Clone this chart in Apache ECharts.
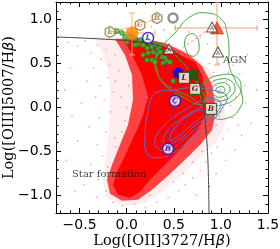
<!DOCTYPE html>
<html><head><meta charset="utf-8">
<script src="https://cdn.jsdelivr.net/npm/echarts@6/dist/echarts.min.js"></script>
<style>html,body{margin:0;padding:0;background:#fff}#c{width:280px;height:249px}</style>
</head><body><div id="c"></div>
<script>
// ---- tick labels ----
const xMajor=[-0.5,0,0.5,1.0,1.5];
const xMinor=[-0.7,-0.6,-0.4,-0.3,-0.2,-0.1,0.1,0.2,0.3,0.4,0.6,0.7,0.8,0.9,1.1,1.2,1.3,1.4];
const yMajor=[-1.0,-0.5,0,0.5,1.0];
const yMinor=[-1.1,-0.9,-0.8,-0.7,-0.6,-0.4,-0.3,-0.2,-0.1,0.1,0.2,0.3,0.4,0.6,0.7,0.8,0.9,1.1];

// ---- SDSS galaxy cloud (density regions) ----
const cloudOuter=[[-0.336,0.802],[0.036,0.802],[0.407,0.734],[0.672,0.632],[0.885,0.427],[1.012,0.143],[1.055,-0.141],[0.970,-0.368],[0.779,-0.573],[0.588,-0.766],[0.375,-0.959],[0.195,-1.084],[-0.018,-1.130],[-0.198,-1.05],[-0.251,-0.880],[-0.230,-0.652],[-0.198,-0.368],[-0.177,-0.027],[-0.177,0.314],[-0.230,0.541]];
const cloudMid=[[-0.124,0.780],[0.142,0.791],[0.407,0.734],[0.651,0.609],[0.800,0.473],[0.906,0.257],[0.949,-0.027],[0.906,-0.255],[0.779,-0.425],[0.619,-0.595],[0.439,-0.777],[0.269,-0.936],[0.120,-1.05],[-0.049,-1.061],[-0.177,-0.982],[-0.209,-0.823],[-0.155,-0.652],[-0.071,-0.425],[0.014,-0.198],[0.067,0.086],[0.057,0.370],[-0.018,0.598]];
const cloudCore=[[-0.018,0.745],[0.142,0.768],[0.354,0.711],[0.566,0.598],[0.726,0.518],[0.800,0.370],[0.842,0.143],[0.832,-0.084],[0.757,-0.255],[0.672,-0.345],[0.566,-0.482],[0.407,-0.652],[0.248,-0.823],[0.142,-0.959],[0.036,-1.027],[-0.092,-0.993],[-0.145,-0.880],[-0.102,-0.732],[-0.039,-0.595],[0.036,-0.425],[0.110,-0.255],[0.174,-0.084],[0.227,0.120],[0.163,0.370],[0.057,0.598]];
const sparsePoints=[[-0.62,0.74],[-0.52,0.70],[-0.44,0.76],[-0.38,0.62],[-0.31,0.71],[-0.27,0.55],[-0.22,0.66],[-0.18,0.48],[-0.12,0.60],[-0.08,0.42],[-0.35,0.45],[-0.42,0.30],[-0.28,0.25],[-0.20,0.34],[-0.14,0.18],[-0.24,0.08],[-0.33,0.12],[-0.48,0.05],[-0.17,-0.05],[-0.29,-0.12],[-0.40,-0.22],[-0.22,-0.28],[-0.13,-0.35],[-0.31,-0.42],[-0.52,-0.38],[-0.26,-0.55],[-0.38,-0.65],[-0.20,-0.68],[-0.30,-0.82],[-0.45,-0.88],[-0.22,-0.95],[-0.32,-1.02],[-0.15,-1.08],[-0.05,-1.12],[0.08,-1.10],[0.20,-1.14],[0.32,-1.08],[0.44,-1.02],[0.55,-0.95],[0.62,-0.88],[0.70,-0.80],[0.78,-0.72],[0.84,-0.62],[0.90,-0.52],[0.96,-0.45],[1.02,-0.36],[1.08,-0.25],[1.12,-0.12],[1.10,0.02],[1.16,0.12],[1.06,0.30],[1.20,0.38],[1.13,0.48],[0.98,0.50],[0.93,0.62],[0.86,0.72],[0.78,0.80],[0.66,0.86],[0.52,0.90],[0.40,0.88],[0.26,0.92],[0.10,0.92],[1.26,0.05],[1.32,-0.18],[1.22,-0.32],[1.15,-0.48],[1.05,-0.60],[0.95,-0.75],[0.88,-0.90],[0.74,-1.00],[1.38,0.20],[1.28,0.60],[-0.60,0.45],[-0.66,0.20],[-0.58,-0.10],[-0.64,-0.60],[-0.55,-0.95],[-0.10,-0.80],[-0.08,-0.55],[-0.05,-0.28],[0.00,0.00],[0.02,0.25],[0.05,0.50],[-0.02,0.65],[1.00,0.20],[1.04,0.10],[0.98,-0.10],[0.95,-0.20],[1.00,-0.05],[0.92,0.40],[0.88,0.50],[1.08,0.40],[0.60,-0.75],[0.50,-0.85],[0.70,-0.62],[0.80,-0.50],[0.12,-1.02],[0.25,-1.00],[-0.12,0.30],[-0.06,0.12],[-0.02,-0.15],[-0.11,-0.45],[1.18,-0.20],[1.25,0.25]];

// ---- contours ----
const blueContours=[
 [[0.322,0.177],[0.492,0.2],[0.704,0.223],[0.991,0.177],[1.065,0.120],[1.023,0.007],[0.853,-0.220],[0.641,-0.402],[0.492,-0.516],[0.322,-0.573],[0.216,-0.516],[0.195,-0.334],[0.227,-0.027],[0.269,0.120]],
 [[0.354,-0.482],[0.301,-0.368],[0.407,-0.198],[0.619,-0.027],[0.832,0.086],[0.970,0.086],[0.991,-0.005],[0.832,-0.164],[0.619,-0.345],[0.460,-0.482]],
 [[0.407,-0.425],[0.407,-0.311],[0.566,-0.141],[0.779,-0.005],[0.906,0.030],[0.906,-0.050],[0.726,-0.209],[0.545,-0.368]],
 [[0.460,-0.368],[0.513,-0.232],[0.672,-0.084],[0.811,-0.027],[0.811,-0.084],[0.651,-0.232],[0.524,-0.345]]
];
const greenContours=[
 [[0.513,0.848],[0.407,0.734],[0.322,0.586],[0.322,0.427],[0.386,0.291],[0.513,0.2],[0.672,0.120],[0.779,0.030],[0.906,-0.107],[1.076,-0.118],[1.203,-0.005],[1.224,0.143],[1.150,0.314],[1.087,0.484],[1.087,0.655],[1.065,0.848],[1.012,0.995],[0.853,1.075],[0.672,1.030]],
 [[0.301,0.541],[0.333,0.370],[0.439,0.223],[0.619,0.109],[0.779,0.030],[0.832,0.086],[0.779,0.223],[0.672,0.405],[0.566,0.541],[0.460,0.632],[0.354,0.632]],
 [[1.214,0.234],[1.161,0.348],[1.002,0.370],[0.832,0.291],[0.779,0.155],[0.853,0.041],[1.012,0.030],[1.171,0.120]],
 [[1.150,0.223],[1.108,0.302],[1.002,0.325],[0.885,0.268],[0.853,0.177],[0.906,0.098],[1.012,0.075],[1.118,0.143]],
 [[1.097,0.211],[1.065,0.268],[1.002,0.280],[0.927,0.245],[0.906,0.189],[0.938,0.132],[1.012,0.120],[1.076,0.166]],
 [[1.044,0.2],[1.023,0.234],[0.980,0.234],[0.949,0.211],[0.959,0.177],[0.991,0.166],[1.033,0.177]],
 [[0.672,0.836],[0.736,0.814],[0.768,0.711],[0.747,0.609],[0.683,0.586],[0.630,0.655],[0.619,0.768]]
];

// ---- demarcation curve ----
const demarcation=[[-0.75,0.802],[-0.283,0.780],[0.142,0.745],[0.354,0.70],[0.513,0.632],[0.619,0.541],[0.704,0.427],[0.768,0.280],[0.811,0.030],[0.842,-0.255],[0.864,-0.652],[0.874,-1.2]];

// ---- individual objects ----
const blueTrack=[[0.227,0.791],[0.354,0.575],[0.460,0.314],[0.513,0.075],[0.460,-0.255],[0.439,-0.470]];
const blueCircles=[{name:'L',value:[0.227,0.791]},{name:'C',value:[0.513,0.075]},{name:'B',value:[0.439,-0.470]}];
const blueFilled=[[0.545,0.393]];
const greenSquares=[{name:'L',value:[0.609,0.336]},{name:'G',value:[0.726,0.211]},{name:'B',value:[0.895,-0.016]}];
const greenFilled=[[0.704,0.370]];
const hexagons=[{name:'L',value:[-0.177,0.859]},{name:'C',value:[0.142,0.939]},{name:'B',value:[0.322,1.018]}];
const grayRing=[[0.492,1.018]];
const orangeCircle=[[0.057,0.848]];
const orangeErr=[[0.057,0.848,-0.155,0.301,0.598,1.075]];
const redTriangle=[[0.959,0.905]];
const redErr=[[0.959,0.905,0.513,1.384,0.484,1.2]];
const whiteTriangles=[{name:'A',value:[0.450,0.666]},{name:'A',value:[0.906,0.916]},{name:'A',value:[0.970,0.632]}];
const orangeDash1=[[-0.177,0.859],[0.142,0.939],[0.322,1.018]];
const orangeDash2=[[0.598,0.677],[0.885,0.905]];
const greenDots=[[-0.145,0.859],[-0.102,0.870],[-0.049,0.848],[-0.018,0.802],[0.004,0.745],[0.036,0.814],[0.089,0.791],[0.120,0.723],[0.142,0.768],[0.174,0.711],[0.195,0.757],[0.216,0.677],[0.248,0.734],[0.269,0.689],[0.280,0.632],[0.301,0.711],[0.322,0.609],[0.333,0.666],[0.354,0.632],[0.375,0.575],[0.407,0.564],[0.428,0.530],[0.386,0.507],[0.269,0.541],[0.216,0.541],[0.174,0.598],[0.227,0.620],[0.301,0.518],[0.492,0.302],[0.089,0.711],[0.354,0.7],[0.460,0.518]];
const textNotes=[{name:'Star formation',value:[-0.58,-0.766]},{name:'AGN',value:[1.023,0.530]}];

// ---- build ----
const fmt=v=>(v<0?'\u2212':'')+Math.abs(v).toFixed(1);
const FS='DejaVu Sans', FSER='DejaVu Serif';
function xAx(pos,ticks,len,line,label){
  return {type:'value',min:-0.75,max:1.5,position:pos,
    axisLine:{show:line,onZero:false,lineStyle:{color:'#000',width:1}},
    axisTick:{show:true,inside:true,length:len,customValues:ticks,lineStyle:{color:'#000',width:1}},
    axisLabel:{show:label,customValues:ticks,formatter:fmt,fontFamily:FS,fontSize:14,color:'#000',margin:5},
    splitLine:{show:false}};
}
function yAx(pos,ticks,len,line,label){
  return {type:'value',min:-1.2,max:1.2,position:pos,
    axisLine:{show:line,onZero:false,lineStyle:{color:'#000',width:1}},
    axisTick:{show:true,inside:true,length:len,customValues:ticks,lineStyle:{color:'#000',width:1}},
    axisLabel:{show:label,customValues:ticks,formatter:fmt,fontFamily:FS,fontSize:14,color:'#000',margin:4},
    splitLine:{show:false}};
}
const nameStyle={fontFamily:FSER,fontSize:14.5,lineHeight:15,color:'#000',rich:{i:{fontFamily:FS,fontStyle:'italic',fontSize:14.5,lineHeight:15,color:'#000'}}};
const xA0=xAx('bottom',xMajor,5,true,true);
xA0.name='Log([OII]3727/H{i|β})';xA0.nameLocation='middle';xA0.nameGap=21;xA0.nameMoveOverlap=false;
xA0.nameTextStyle=nameStyle;
const yA0=yAx('left',yMajor,5,true,true);
yA0.name='Log([OIII]5007/H{i|β})';yA0.nameLocation='middle';yA0.nameGap=39;yA0.nameMoveOverlap=false;
yA0.nameTextStyle=nameStyle;

function poly(pts,fill,stroke,lw,smooth){
  return {type:'custom',silent:true,data:[[0,0]],clip:true,
    renderItem:(p,api)=>({type:'polygon',shape:{points:pts.map(q=>api.coord(q)),smooth:smooth||0},
      style:{fill:fill||'none',stroke:stroke||'none',lineWidth:lw||0}})};
}
function errbar(data,color){
  return {type:'custom',silent:true,data:data,clip:true,
    renderItem:(p,api)=>{
      const v=i=>api.value(i);
      const l=api.coord([v(2),v(1)]),r=api.coord([v(3),v(1)]),b=api.coord([v(0),v(4)]),t=api.coord([v(0),v(5)]);
      const st={stroke:color,lineWidth:1};const c=3;
      return {type:'group',children:[
        {type:'line',shape:{x1:l[0],y1:l[1],x2:r[0],y2:r[1]},style:st},
        {type:'line',shape:{x1:b[0],y1:b[1],x2:t[0],y2:t[1]},style:st},
        {type:'line',shape:{x1:l[0],y1:l[1]-c,x2:l[0],y2:l[1]+c},style:st},
        {type:'line',shape:{x1:r[0],y1:r[1]-c,x2:r[0],y2:r[1]+c},style:st},
        {type:'line',shape:{x1:b[0]-c,y1:b[1],x2:b[0]+c,y2:b[1]},style:st},
        {type:'line',shape:{x1:t[0]-c,y1:t[1],x2:t[0]+c,y2:t[1]},style:st}]};
    }};
}
const letterLabel=(col)=>({show:true,position:'inside',formatter:'{b}',fontFamily:FSER,fontStyle:'italic',fontWeight:'bold',fontSize:7.5,color:col||'#000'});
const HEX='path://M0,-10L8.66,-5L8.66,5L0,10L-8.66,5L-8.66,-5Z';

const series=[
  poly(cloudOuter,'rgba(255,40,40,0.09)'),
  poly(cloudMid,'rgba(255,0,0,0.72)'),
  poly(cloudCore,'#ff0000'),
  {type:'scatter',silent:true,symbolSize:1.6,data:sparsePoints,itemStyle:{color:'rgba(255,60,60,0.7)'}},
];
blueContours.forEach(c=>series.push(poly(c,null,'#5b6fd8',1,0.5)));
greenContours.forEach(c=>series.push(poly(c,null,'#45a845',1,0.5)));
series.push(
  {type:'line',data:demarcation,smooth:0.4,symbol:'none',silent:true,lineStyle:{color:'#444',width:1}},
  {type:'line',data:blueTrack,smooth:0.3,symbol:'none',silent:true,lineStyle:{color:'#3a3ad0',width:1,type:[3,2]}},
  {type:'line',data:orangeDash1,symbol:'none',silent:true,lineStyle:{color:'#ffa040',width:1,type:[3,2]}},
  {type:'line',data:orangeDash2,symbol:'none',silent:true,lineStyle:{color:'#ff9060',width:1,type:[3,2]}},
  {type:'scatter',silent:true,symbol:'circle',symbolSize:5,data:greenDots,itemStyle:{color:'#33c433',borderColor:'#1a5c1a',borderWidth:0.6}},
  errbar(orangeErr,'#ffb070'),
  errbar(redErr,'#ff9a70'),
  {type:'scatter',silent:true,symbol:'circle',symbolSize:13,data:orangeCircle,itemStyle:{color:'#ff8000'}},
  {type:'scatter',silent:true,symbol:'triangle',symbolSize:[13,12],data:redTriangle,itemStyle:{color:'#ff3a00',borderColor:'#c02000',borderWidth:0.8}},
  {type:'scatter',silent:true,symbol:'triangle',symbolSize:[11,10],data:whiteTriangles,itemStyle:{color:'#fff',borderColor:'#333',borderWidth:1},label:{show:true,position:'inside',formatter:'{b}',fontFamily:FS,fontSize:6,color:'#333',offset:[0,1.5]}},
  {type:'scatter',silent:true,symbol:HEX,symbolKeepAspect:true,symbolSize:11,data:hexagons,itemStyle:{color:'#fff',borderColor:'#8c6d31',borderWidth:1.3},label:letterLabel('#8c6d31')},
  {type:'scatter',silent:true,symbol:'circle',symbolSize:9,data:grayRing,itemStyle:{color:'#fff',borderColor:'#777',borderWidth:2.5}},
  {type:'scatter',silent:true,symbol:'circle',symbolSize:11,data:blueFilled,itemStyle:{color:'#0000ff'}},
  {type:'scatter',silent:true,symbol:'rect',symbolSize:11,data:greenFilled,itemStyle:{color:'#006400'}},
  {type:'scatter',silent:true,symbol:'rect',symbolSize:11,data:greenSquares,itemStyle:{color:'#fff',borderColor:'#0a5a0a',borderWidth:1.3},label:letterLabel('#000')},
  {type:'scatter',silent:true,symbol:'circle',symbolSize:11,data:blueCircles,itemStyle:{color:'#fff',borderColor:'#1010d0',borderWidth:1.5},label:letterLabel('#1010a0')},
  {type:'scatter',silent:true,symbolSize:0,data:textNotes,label:{show:true,position:'right',distance:0,formatter:'{b}',fontFamily:FSER,fontSize:10,color:'#111'}}
);
series.forEach(s=>{s.xAxisIndex=0;s.yAxisIndex=0;s.animation=false;});

const chart=echarts.init(document.getElementById('c'),null,{renderer:'canvas'});
chart.setOption({
  animation:false,backgroundColor:'#fff',
  grid:{left:56,right:12,top:2,bottom:36,containLabel:false,outerBoundsMode:'none'},
  xAxis:[xA0,xAx('bottom',xMinor,2.5,false,false),xAx('top',xMajor,5,true,false),xAx('top',xMinor,2.5,false,false)],
  yAxis:[yA0,yAx('left',yMinor,2.5,false,false),yAx('right',yMajor,5,true,false),yAx('right',yMinor,2.5,false,false)],
  series:series
});
</script></body></html>
